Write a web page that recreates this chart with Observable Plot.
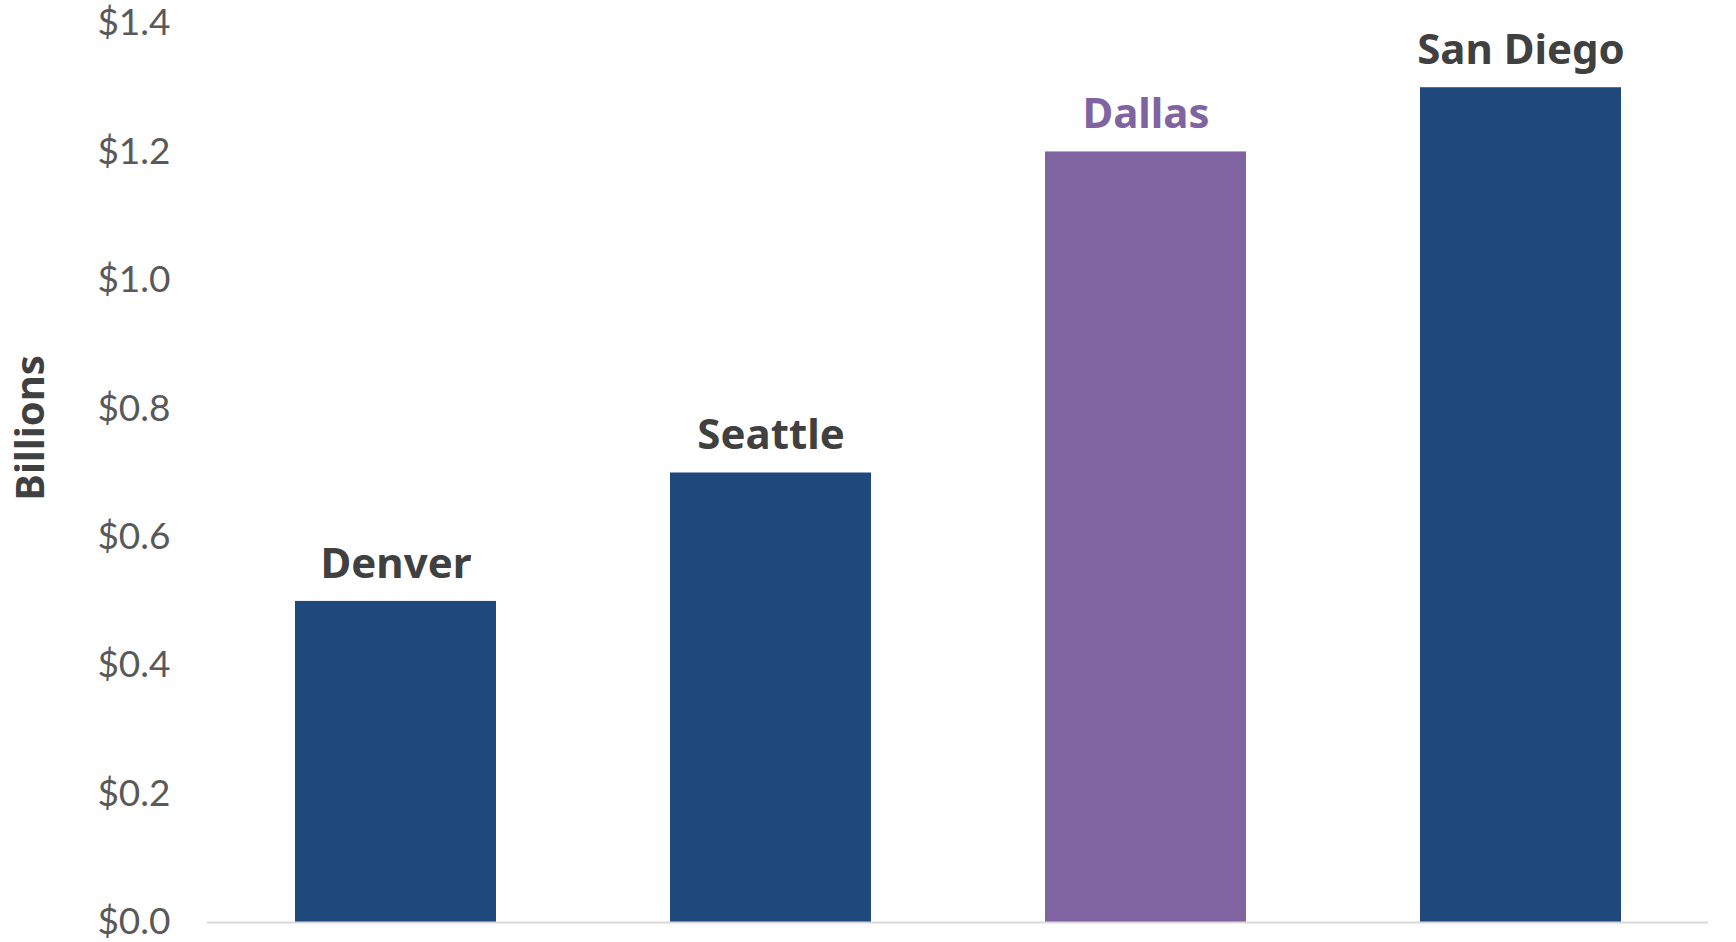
<!DOCTYPE html>
<html>
<head>
<meta charset="utf-8">
<script src="https://cdn.jsdelivr.net/npm/d3@7"></script>
<script src="https://cdn.jsdelivr.net/npm/@observablehq/plot@0.6"></script>
<style>
  html, body { margin: 0; padding: 0; background: #fff; }
  #chart svg { display: block; }
</style>
</head>
<body>
<div id="chart"></div>
<script>
const cities = ["Denver", "Seattle", "Dallas", "San Diego"];
const values = [0.5, 0.7, 1.2, 1.3];
const barColors = ["#1F497D", "#1F497D", "#8064A2", "#1F497D"];
const labelColors = ["#404040", "#404040", "#8064A2", "#404040"];
const yTicks = [0, 0.2, 0.4, 0.6, 0.8, 1.0, 1.2, 1.4];
const yLabel = "Billions";

const data = cities.map((c, i) => ({city: c, value: values[i], bar: barColors[i], lab: labelColors[i]}));

const chart = Plot.plot({
  width: 1736,
  height: 942,
  marginLeft: 207,
  marginRight: 28,
  marginTop: 23,
  marginBottom: 20,
  style: {fontFamily: "Lato, sans-serif", background: "#fff"},
  x: {domain: cities, paddingInner: 0.464, paddingOuter: 0.232, axis: null},
  y: {domain: [0, 1.4], axis: null},
  marks: [
    Plot.axisY({
      ticks: yTicks,
      tickFormat: d => "$" + d.toFixed(1),
      tickSize: 0,
      tickPadding: 37,
      fontSize: 37,
      fill: "#595959",
      label: null
    }),
    Plot.barY(data, {x: "city", y: "value", fill: d => d.bar}),
    Plot.ruleY([0], {stroke: "#d9d9d9", strokeWidth: 2}),
    Plot.text(data, {
      x: "city", y: "value", text: "city",
      fill: d => d.lab,
      fontFamily: "Noto Sans, sans-serif",
      fontWeight: "bold",
      fontSize: 42,
      lineAnchor: "middle",
      dy: -37
    }),
    Plot.text([yLabel], {
      frameAnchor: "left",
      text: d => d,
      rotate: -90,
      textAnchor: "middle",
      lineAnchor: "middle",
      dx: -176,
      dy: -45,
      fontFamily: "Noto Sans, sans-serif",
      fontWeight: "bold",
      fontSize: 40,
      fill: "#404040"
    })
  ]
});
document.getElementById("chart").appendChild(chart);
</script>
</body>
</html>
